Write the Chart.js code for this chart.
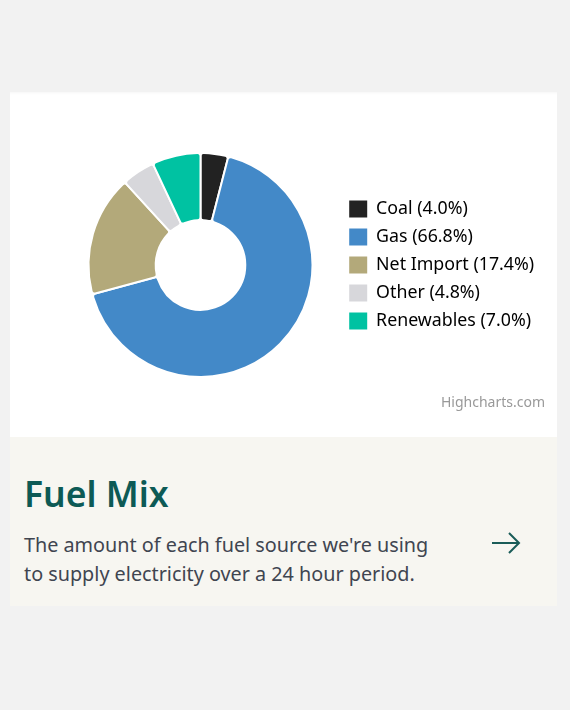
<!DOCTYPE html>
<html>
<head>
<meta charset="utf-8">
<script src="https://cdn.jsdelivr.net/npm/chart.js@4.4.1/dist/chart.umd.min.js"></script>
<style>
  body { margin: 0; background: #f2f2f2; font-family: "Noto Sans", sans-serif; }
  .card { position: absolute; left: 10px; top: 92px; width: 547px; height: 514px; }
  .chart-box { position: absolute; left: 0; top: 0; width: 547px; height: 345px; background: #fff;
    box-shadow: inset 0 3px 3px -2px rgba(0,0,0,0.04); }
  .credit { position: absolute; right: 12px; top: 300px; font-size: 14px; color: #999; }
  .info { position: absolute; left: 0; top: 345px; width: 547px; height: 169px; background: #f7f6f1; }
  .info h2 { position: absolute; left: 14px; top: 36px; margin: 0; font-size: 35.5px; line-height: 40px;
    font-weight: 600; color: #0d5a55; }
  .info p { position: absolute; left: 14px; top: 93px; margin: 0; font-size: 19.8px; line-height: 29px; color: #3f4550; }
  .info svg { position: absolute; left: 481px; top: 94px; }
</style>
</head>
<body>
<div class="card">
  <div class="chart-box">
    <canvas id="fuelChart" width="547" height="345"></canvas>
    <div class="credit">Highcharts.com</div>
  </div>
  <div class="info">
    <h2>Fuel Mix</h2>
    <p>The amount of each fuel source we're using<br>to supply electricity over a 24 hour period.</p>
    <svg width="30" height="24" viewBox="0 0 30 24">
      <path d="M1 12 H28 M18 2 L28 12 L18 22" fill="none" stroke="#1a5c58" stroke-width="2"/>
    </svg>
  </div>
</div>

<script>
// fuel mix shares, percent
const sources = ["Coal", "Gas", "Net Import", "Other", "Renewables"];
const shares = [4.0, 66.8, 17.4, 4.8, 7.0];
const sliceColors = ["#222222", "#4389c8", "#b3a97a", "#d7d7db", "#00c2a2"];

Chart.defaults.font.family = "'Noto Sans', sans-serif";

const ctx = document.getElementById("fuelChart").getContext("2d");

const chart = new Chart(ctx, {
  type: "doughnut",
  data: {
    labels: sources,
    datasets: [
      {
        data: shares,
        backgroundColor: sliceColors,
        borderColor: "#ffffff",
        borderWidth: 2,
        borderRadius: 3,
      },
    ],
  },
  options: {
    responsive: false,
    animation: false,
    cutout: "40%",
    layout: {
      padding: { left: 52, right: 18, top: 60, bottom: 59 },
    },
    plugins: {
      tooltip: { enabled: false },
      legend: {
        position: "right",
        maxWidth: 200,
        labels: {
          color: "#333333",
          font: { size: 17.8 },
          boxWidth: 18,
          boxHeight: 17,
          padding: 10.2,
          generateLabels: (c) =>
            c.data.labels.map((label, i) => ({
              text: label + " (" + shares[i].toFixed(1) + "%)",
              fillStyle: sliceColors[i],
              strokeStyle: sliceColors[i],
              lineWidth: 0,
              hidden: false,
              index: i,
            })),
        },
        onClick: () => {},
      },
    },
  },
});
</script>
</body>
</html>
